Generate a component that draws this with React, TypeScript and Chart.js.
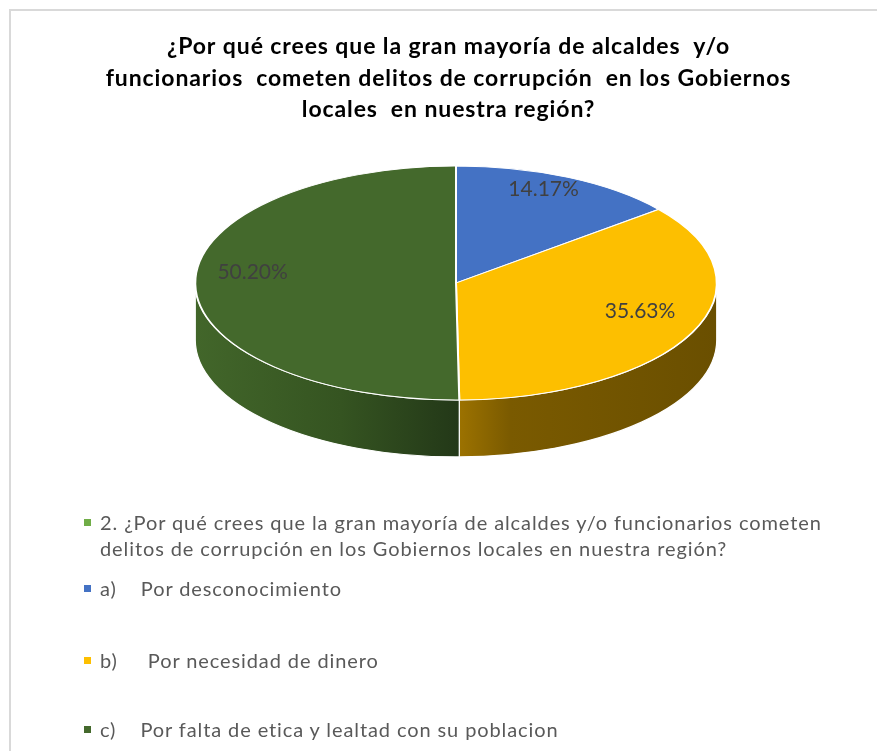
import React, { useEffect, useRef } from 'react';
import { Chart, registerables } from 'chart.js';

Chart.register(...registerables);

const titleLines = [
  '¿Por qué crees que la gran mayoría de alcaldes  y/o',
  'funcionarios  cometen delitos de corrupción  en los Gobiernos',
  'locales  en nuestra región?',
];
const seriesName =
  '2. ¿Por qué crees que la gran mayoría de alcaldes y/o funcionarios cometen delitos de corrupción en los Gobiernos locales en nuestra región?';
const categories = [
  'a)    Por desconocimiento',
  'b)     Por necesidad de dinero',
  'c)    Por falta de etica y lealtad con su poblacion',
];
const values = [14.17, 35.63, 50.2];

const sliceColors = ['#4472C4', '#FDBF00', '#44692C'];
const sideStops: [number, string][][] = [
  [[0, '#2f5496'], [1, '#24407a']],
  [[0, '#9c7200'], [0.2, '#7a5a00'], [1, '#6a4f00']],
  [[0, '#42662a'], [0.55, '#355421'], [1, '#233818']],
];

const CX = 456; // horizontal centre of the tilted pie
const CY = 283; // vertical centre of the tilted pie
const K = 0.4485; // vertical squash of the tilt
const DEPTH = 57; // thickness of the pie

const tiltPlugin = {
  id: 'tilt',
  beforeDraw(chart: any) {
    (chart.ctx as any).letterSpacing = '0.9px';
  },
  beforeDatasetsDraw(chart: any) {
    const ctx = chart.ctx as CanvasRenderingContext2D;
    (ctx as any).letterSpacing = '0px';
    const meta = chart.getDatasetMeta(0);
    const first = meta.data[0];
    if (!first) return;
    const cx0 = first.x;
    const cy0 = first.y;
    meta.data.forEach((arc: any, i: number) => {
      const { startAngle, endAngle, outerRadius } = arc.getProps(
        ['startAngle', 'endAngle', 'outerRadius'],
        true
      );
      const s = Math.max(startAngle, 0);
      const e = Math.min(endAngle, Math.PI);
      if (s >= e) return;
      const R = outerRadius;
      const x0 = CX + R * Math.cos(e);
      const x1 = CX + R * Math.cos(s);
      const g = ctx.createLinearGradient(Math.min(x0, x1), 0, Math.max(x0, x1), 0);
      sideStops[i].forEach(([p, c]) => g.addColorStop(p, c));
      ctx.save();
      ctx.beginPath();
      ctx.ellipse(CX, CY, R, R * K, 0, s, e, false);
      ctx.ellipse(CX, CY + DEPTH, R, R * K, 0, e, s, true);
      ctx.closePath();
      ctx.fillStyle = g;
      ctx.fill();
      ctx.lineWidth = 1.2;
      ctx.strokeStyle = '#ffffff';
      ctx.stroke();
      ctx.restore();
    });
    ctx.save();
    ctx.translate(CX, CY);
    ctx.scale(1, K);
    ctx.translate(-cx0, -cy0);
  },
  afterDatasetsDraw(chart: any) {
    const ctx = chart.ctx as CanvasRenderingContext2D;
    const meta = chart.getDatasetMeta(0);
    const first = meta.data[0];
    if (!first) return;
    ctx.restore();
    ctx.save();
    ctx.font = '21px Lato, "Noto Sans", sans-serif';
    ctx.fillStyle = '#404040';
    ctx.textAlign = 'center';
    ctx.textBaseline = 'middle';
    meta.data.forEach((arc: any, i: number) => {
      const { startAngle, endAngle, outerRadius } = arc.getProps(
        ['startAngle', 'endAngle', 'outerRadius'],
        true
      );
      const mid = (startAngle + endAngle) / 2;
      const r = outerRadius * 0.78;
      const x = CX + r * Math.cos(mid);
      const y = CY + r * K * Math.sin(mid) - 11;
      ctx.fillText(values[i].toFixed(2) + '%', x, y);
    });
    ctx.restore();
  },
};

export default function App() {
  const ref = useRef<HTMLCanvasElement | null>(null);

  useEffect(() => {
    if (!ref.current) return;
    const chart = new Chart(ref.current, {
      type: 'pie',
      data: {
        labels: categories,
        datasets: [
          {
            label: seriesName,
            data: values,
            backgroundColor: sliceColors,
            borderColor: '#ffffff',
            borderWidth: 2,
            clip: false as any,
          },
        ],
      },
      options: {
        responsive: false,
        animation: false,
        events: [],
        layout: { padding: { left: 20, right: 0, top: 0, bottom: 92 } },
        plugins: {
          legend: { display: false },
          tooltip: { enabled: false },
          title: {
            display: true,
            text: titleLines,
            color: '#000000',
            font: { family: 'Lato, "Noto Sans", sans-serif', size: 23, weight: 'bold', lineHeight: 1.37 },
            padding: { top: 31, bottom: 10 },
          },
        },
      },
      plugins: [tiltPlugin],
    });
    return () => chart.destroy();
  }, []);

  const legendText: React.CSSProperties = {
    position: 'absolute',
    left: 100,
    fontFamily: 'Lato, "Noto Sans", sans-serif',
    fontSize: 20,
    letterSpacing: '0.9px',
    lineHeight: '26px',
    color: '#595959',
    whiteSpace: 'pre',
  };
  const marker = (color: string, top: number): React.CSSProperties => ({
    position: 'absolute',
    left: 84,
    top,
    width: 7,
    height: 7,
    background: color,
  });

  return (
    <div
      style={{
        position: 'absolute',
        left: 0,
        top: 0,
        width: 877,
        height: 751,
        background: '#ffffff',
        overflow: 'hidden',
      }}
    >
      <div
        style={{
          position: 'absolute',
          left: 9,
          top: 9,
          width: 900,
          height: 800,
          borderTop: '2px solid #d9d9d9',
          borderLeft: '2px solid #d9d9d9',
        }}
      />
      <canvas ref={ref} width={877} height={751} style={{ position: 'absolute', left: 0, top: 0 }} />
      <div style={marker('#70AD47', 519)} />
      <div style={{ ...legendText, top: 509, width: 735, whiteSpace: 'normal' }}>{seriesName}</div>
      <div style={marker(sliceColors[0], 585)} />
      <div style={{ ...legendText, top: 575 }}>{categories[0]}</div>
      <div style={marker(sliceColors[1], 657)} />
      <div style={{ ...legendText, top: 647 }}>{categories[1]}</div>
      <div style={marker(sliceColors[2], 726)} />
      <div style={{ ...legendText, top: 716 }}>{categories[2]}</div>
    </div>
  );
}
